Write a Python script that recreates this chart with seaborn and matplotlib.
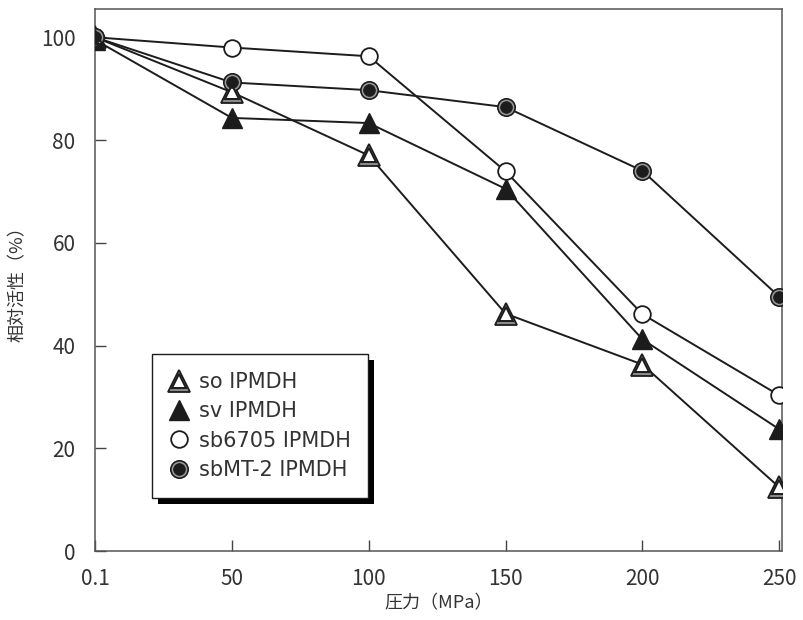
import numpy as np
import pandas as pd
import matplotlib
matplotlib.use("Agg")
import matplotlib.pyplot as plt
from matplotlib.lines import Line2D
from matplotlib.patches import Rectangle
import seaborn as sns

# data
pressure = ["0.1", "50", "100", "150", "200", "250"]
so_ipmdh = [100, 89.3, 77.0, 46.2, 36.3, 12.4]
sv_ipmdh = [99.5, 84.3, 83.3, 70.5, 41.2, 23.7]
sb6705_ipmdh = [100, 98.0, 96.3, 73.9, 46.1, 30.3]
sbmt2_ipmdh = [100, 91.2, 89.7, 86.4, 74.0, 49.5]
yticks = [0, 20, 40, 60, 80, 100]

sns.set_style("ticks")
plt.rcParams["font.family"] = ["Noto Sans CJK JP", "DejaVu Sans"]

dark = "#1c1c1c"
pos = np.arange(len(pressure))

fig = plt.figure(figsize=(8.04, 6.2), dpi=100)
ax = fig.add_axes([95 / 804, 69 / 620, 687 / 804, 542 / 620])

# so IPMDH: double-outlined open triangle
sns.lineplot(x=pos, y=so_ipmdh, ax=ax, color=dark, lw=1.4, marker="^",
             markersize=16, markerfacecolor="#8a8a8a", markeredgecolor=dark,
             markeredgewidth=1.3, zorder=3)
ax.plot(pos, so_ipmdh, ls="none", marker="^", markersize=9.5,
        markerfacecolor="white", markeredgecolor=dark, markeredgewidth=1.4, zorder=4)

# sv IPMDH: filled triangle
sns.lineplot(x=pos, y=sv_ipmdh, ax=ax, color=dark, lw=1.4, marker="^",
             markersize=14, markerfacecolor=dark, markeredgecolor=dark,
             markeredgewidth=1, zorder=3)

# sb6705 IPMDH: open circle
sns.lineplot(x=pos, y=sb6705_ipmdh, ax=ax, color=dark, lw=1.4, marker="o",
             markersize=12, markerfacecolor="white", markeredgecolor=dark,
             markeredgewidth=1.3, zorder=3)

# sbMT-2 IPMDH: filled circle with light ring
sns.lineplot(x=pos, y=sbmt2_ipmdh, ax=ax, color=dark, lw=1.4, marker="o",
             markersize=12.5, markerfacecolor="#9a9a9a", markeredgecolor=dark,
             markeredgewidth=1.2, zorder=3)
ax.plot(pos, sbmt2_ipmdh, ls="none", marker="o", markersize=8.5,
        markerfacecolor=dark, markeredgecolor=dark, markeredgewidth=0.5, zorder=4)

ax.set_xlim(0, 5.02)
ax.set_ylim(0, 105.5)
ax.set_xticks(pos)
ax.set_xticklabels(pressure)
ax.set_yticks(yticks)
ax.tick_params(direction="in", length=8, width=1, color="#444",
               labelsize=15, labelcolor="#333")
ax.tick_params(axis="x", pad=12)
ax.tick_params(axis="y", pad=14)
for s in ax.spines.values():
    s.set_color("#555")
    s.set_linewidth(1.1)

ax.set_xlabel("圧力（MPa）", fontsize=13, color="#333", labelpad=3)
ax.set_ylabel("相対活性（%）", fontsize=13, color="#333", labelpad=10)

# legend with marker-only handles
h_so = (Line2D([], [], ls="none", marker="^", markersize=16, markerfacecolor="#8a8a8a",
               markeredgecolor=dark, markeredgewidth=1.3),
        Line2D([], [], ls="none", marker="^", markersize=9.5, markerfacecolor="white",
               markeredgecolor=dark, markeredgewidth=1.4))
h_sv = Line2D([], [], ls="none", marker="^", markersize=14, markerfacecolor=dark,
              markeredgecolor=dark)
h_sb = Line2D([], [], ls="none", marker="o", markersize=12, markerfacecolor="white",
              markeredgecolor=dark, markeredgewidth=1.3)
h_mt = (Line2D([], [], ls="none", marker="o", markersize=12.5, markerfacecolor="#9a9a9a",
               markeredgecolor=dark, markeredgewidth=1.2),
        Line2D([], [], ls="none", marker="o", markersize=8.5, markerfacecolor=dark,
               markeredgecolor=dark, markeredgewidth=0.5))

leg = ax.legend([h_so, h_sv, h_sb, h_mt],
                ["so IPMDH", "sv IPMDH", "sb6705 IPMDH", "sbMT-2 IPMDH"],
                loc="upper left", bbox_to_anchor=(0.083, 0.363), borderaxespad=0,
                fancybox=False, framealpha=1, edgecolor=dark,
                prop={"family": "DejaVu Sans", "size": 15},
                handlelength=0.9, handletextpad=0.5, labelspacing=0.45,
                borderpad=0.85)
leg.get_frame().set_linewidth(1)
leg.set_zorder(10)
for t in leg.get_texts():
    t.set_color("#333")

# black drop shadow behind the legend
fig.canvas.draw()
bb = leg.get_window_extent()
shadow = Rectangle((bb.x0 + 6, bb.y0 - 6), bb.width, bb.height, transform=None,
                   facecolor="black", edgecolor="none", zorder=9)
ax.add_artist(shadow)

fig.savefig("out.png", dpi=100)
